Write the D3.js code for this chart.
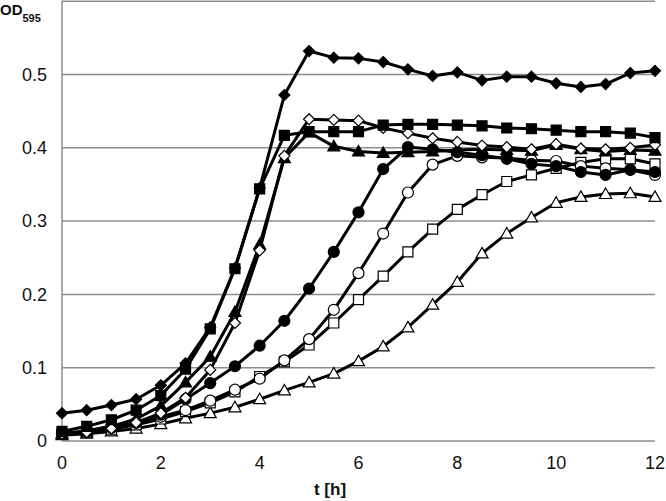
<!DOCTYPE html>
<html><head><meta charset="utf-8">
<script src="https://cdn.jsdelivr.net/npm/d3@7"></script>
<style>body{margin:0;background:#fff}svg{display:block}text{font-family:"Liberation Sans",Arial,sans-serif}</style>
</head><body>
<svg id="c" width="666" height="501"></svg>
<script>
const times = d3.range(0, 12.01, 0.5);
const xTicks = [0, 2, 4, 6, 8, 10, 12];
const yTicks = [0, 0.1, 0.2, 0.3, 0.4, 0.5];
const yTickLabels = ["0", "0.1", "0.2", "0.3", "0.4", "0.5"];
const yLabel = "OD";
const yLabelSub = "595";
const xLabel = "t [h]";

const filledDiamond = [0.038,0.042,0.049,0.057,0.076,0.106,0.155,0.236,0.345,0.472,0.532,0.523,0.522,0.517,0.507,0.498,0.503,0.492,0.497,0.497,0.488,0.483,0.487,0.502,0.505];
const filledSquare = [0.013,0.020,0.029,0.042,0.062,0.098,0.153,0.235,0.344,0.417,0.422,0.422,0.422,0.431,0.432,0.432,0.431,0.430,0.427,0.426,0.424,0.422,0.422,0.420,0.414];
const openDiamond = [0.010,0.012,0.017,0.025,0.038,0.059,0.097,0.161,0.260,0.389,0.439,0.438,0.437,0.427,0.420,0.413,0.408,0.403,0.401,0.398,0.405,0.399,0.398,0.400,0.404];
const filledTriangle = [0.010,0.013,0.020,0.030,0.048,0.080,0.115,0.176,0.268,0.386,0.421,0.402,0.395,0.393,0.394,0.395,0.397,0.398,0.397,0.396,0.404,0.398,0.395,0.397,0.396];
const filledCircle = [0.010,0.013,0.018,0.025,0.036,0.057,0.079,0.102,0.130,0.164,0.208,0.258,0.312,0.371,0.401,0.398,0.394,0.390,0.385,0.378,0.375,0.367,0.363,0.370,0.367];
const openCircle = [0.010,0.014,0.020,0.025,0.033,0.042,0.055,0.070,0.085,0.110,0.139,0.179,0.229,0.283,0.339,0.377,0.389,0.387,0.386,0.383,0.382,0.375,0.372,0.370,0.363];
const openSquare = [0.010,0.012,0.016,0.022,0.030,0.040,0.052,0.067,0.088,0.108,0.131,0.161,0.193,0.225,0.258,0.289,0.316,0.336,0.354,0.363,0.372,0.380,0.385,0.385,0.378];
const openTriangle = [0.008,0.010,0.013,0.017,0.023,0.031,0.038,0.046,0.057,0.069,0.080,0.092,0.109,0.129,0.155,0.186,0.217,0.256,0.283,0.305,0.325,0.333,0.337,0.338,0.333];

const series = [
  {v: openTriangle, shape: "triangle", fill: "#fff"},
  {v: openSquare, shape: "square", fill: "#fff"},
  {v: openCircle, shape: "circle", fill: "#fff"},
  {v: filledCircle, shape: "circle", fill: "#000"},
  {v: filledTriangle, shape: "triangle", fill: "#000"},
  {v: openDiamond, shape: "diamond", fill: "#fff"},
  {v: filledSquare, shape: "square", fill: "#000"},
  {v: filledDiamond, shape: "diamond", fill: "#000"}
];

const svg = d3.select("#c");
const x = d3.scaleLinear().domain([0, 12]).range([62, 655]);
const y = d3.scaleLinear().domain([0, 0.6]).range([441, 1.2]);

// gridlines
svg.append("g").selectAll("line").data([0.1,0.2,0.3,0.4,0.5,0.6]).join("line")
  .attr("x1", x(0)).attr("x2", x(12)).attr("y1", d => y(d)).attr("y2", d => y(d))
  .attr("stroke", "#8c8c8c").attr("stroke-width", 1.5);
// axes lines
svg.append("line").attr("x1", x(0)).attr("x2", x(0)).attr("y1", y(0)).attr("y2", y(0.6))
  .attr("stroke", "#8c8c8c").attr("stroke-width", 1.5);
svg.append("line").attr("x1", x(0)).attr("x2", x(12)).attr("y1", y(0)).attr("y2", y(0))
  .attr("stroke", "#8c8c8c").attr("stroke-width", 1.5);

// tick labels
svg.append("g").selectAll("text").data(yTicks).join("text")
  .attr("x", 47).attr("y", d => y(d)).attr("dy", "0.35em").attr("text-anchor", "end")
  .attr("font-size", 18).attr("fill", "#111").text((d, i) => yTickLabels[i]);
svg.append("g").selectAll("text").data(xTicks).join("text")
  .attr("x", d => x(d)).attr("y", 463).attr("dy", "0.35em").attr("text-anchor", "middle")
  .attr("font-size", 18).attr("fill", "#111").text(d => d);

svg.append("text").attr("x", 330).attr("y", 489).attr("dy", "0.35em").attr("text-anchor", "middle")
  .attr("font-size", 17).attr("font-weight", "bold").attr("fill", "#111").text(xLabel);
const yl = svg.append("text").attr("x", 0).attr("y", 15).attr("font-size", 15).attr("font-weight", "bold").attr("fill", "#111");
yl.append("tspan").text(yLabel);
yl.append("tspan").attr("font-size", 11).attr("dy", 7).text(yLabelSub);

const line = d3.line().x((d, i) => x(times[i])).y(d => y(d));
function shapePath(shape) {
  if (shape === "circle") return d3.symbol(d3.symbolCircle, 95)();
  if (shape === "square") return d3.symbol(d3.symbolSquare, 100)();
  if (shape === "diamond") return "M0,-5.5L5.5,0L0,5.5L-5.5,0Z";
  return "M0,-6L6,4.5L-6,4.5Z";
}
series.forEach(s => {
  const g = svg.append("g");
  g.append("path").attr("d", line(s.v)).attr("fill", "none").attr("stroke", "#000").attr("stroke-width", 3).attr("stroke-linejoin", "round");
  g.selectAll("path.m").data(s.v).join("path").attr("class", "m")
    .attr("transform", (d, i) => `translate(${x(times[i])},${y(d)})`)
    .attr("d", shapePath(s.shape)).attr("fill", s.fill).attr("stroke", "#000").attr("stroke-width", 1.2);
});
</script>
</body></html>
